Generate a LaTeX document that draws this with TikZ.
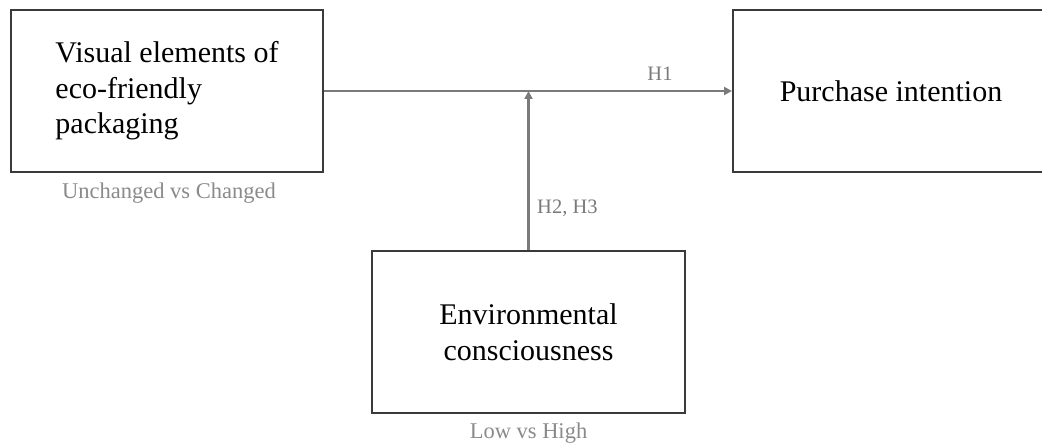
\documentclass[tikz,border=0pt]{standalone}
\usepackage{fontspec}
\setmainfont{Liberation Serif}
\usetikzlibrary{arrows.meta}
\definecolor{boxline}{HTML}{3A3A3A}
\definecolor{arrgray}{HTML}{7A7A7A}
\definecolor{lblgray}{HTML}{8A8A8A}
\tikzset{
  varbox/.style={draw=boxline, line width=2pt, minimum width=312pt, minimum height=162pt,
    inner sep=0pt, align=left, font=\fontsize{30}{35.5}\selectfont, text=black},
  varboxc/.style={varbox, align=center},
  arr/.style={draw=arrgray, line width=2.2pt, -{Triangle[length=8pt,width=8pt]}},
  lbl/.style={text=lblgray, font=\fontsize{22.5}{26}\selectfont, inner sep=0pt},
  hlbl/.style={text=arrgray, font=\fontsize{20.5}{24}\selectfont, inner sep=0pt}
}
\begin{document}
\begin{tikzpicture}[x=1pt,y=-1pt]
\useasboundingbox (0,0) rectangle (1042,444);
\node[varbox] (vis) at (167,91) {Visual elements of\\eco-friendly\\packaging};
\node[varboxc, minimum width=316pt] (pur) at (891,91) {Purchase intention};
\node[varboxc, minimum width=313pt] (env) at (528.5,332) {Environmental\\consciousness};
\node[lbl] (vislbl) at (169,193) {Unchanged vs Changed};
\node[lbl] (envlbl) at (528.5,433) {Low vs High};
\coordinate (join) at (env.north |- vis.east);
\draw[arr] (vis.east) -- (pur.west);
\draw[arr] (env.north) -- (join);
\node[hlbl] (h1) at (660,74) {H1};
\node[hlbl, anchor=west] (h23) at (537,208) {H2, H3};
\end{tikzpicture}
\end{document}
